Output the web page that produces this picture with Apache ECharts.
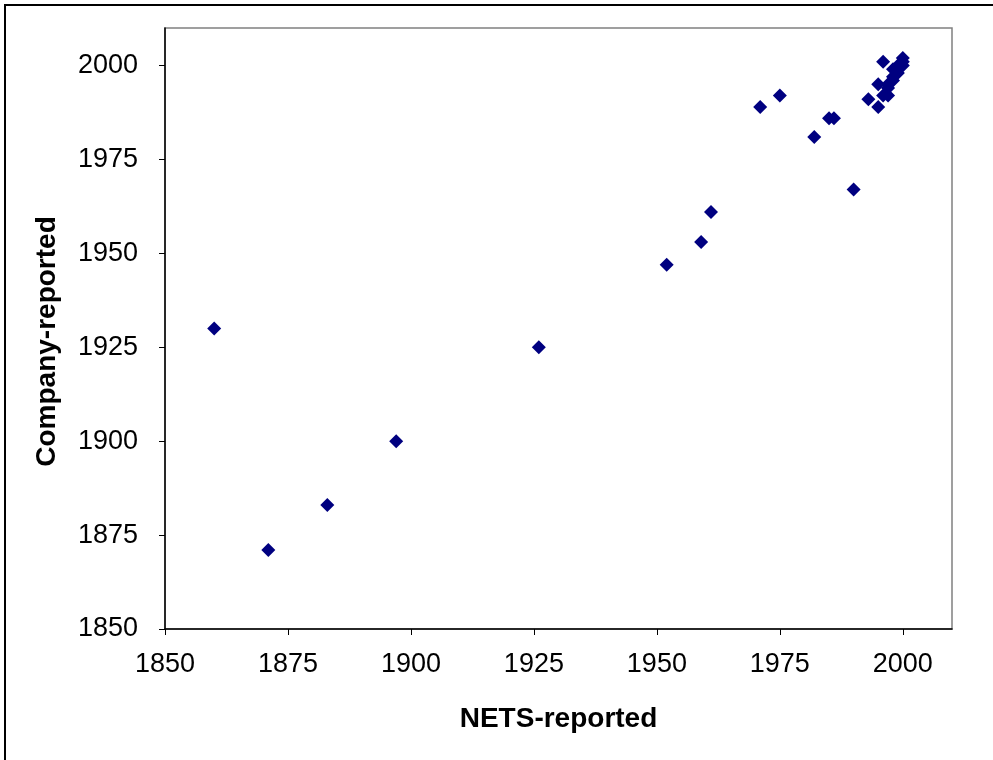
<!DOCTYPE html>
<html>
<head>
<meta charset="utf-8">
<style>
  html, body { margin: 0; padding: 0; background: #fff; }
  #chart { width: 993px; height: 760px; }
</style>
<script src="https://cdn.jsdelivr.net/npm/echarts@6/dist/echarts.min.js"></script>
</head>
<body>
<div id="chart"></div>
<script>
// year reported by NETS vs year reported by the company
var netsYears = [1860, 1871, 1883, 1897, 1926, 1952, 1959, 1961, 1971, 1975,
                 1982, 1985, 1986, 1990, 1993, 1995, 1995, 1996, 1996, 1997,
                 1997, 1997, 1998, 1998, 1998, 1999, 1999, 2000, 2000, 2000];
var companyYears = [1930, 1871, 1883, 1900, 1925, 1947, 1953, 1961, 1989, 1992,
                    1981, 1986, 1986, 1967, 1991, 1989, 1995, 2001, 1992, 1992,
                    1994, 1995, 1996, 1997, 1999, 1998, 2000, 2000, 2001, 2002];
var tickYears = [1850, 1875, 1900, 1925, 1950, 1975, 2000];

var points = [];
for (var i = 0; i < netsYears.length; i++) {
	points.push([netsYears[i], companyYears[i]]);
}

var dom = document.getElementById('chart');
var myChart = echarts.init(dom);

var fontName = 'Liberation Sans, Arial, sans-serif';

function yearLabel(v) {
	return String(v);
}

var option = {
	animation: false,
	backgroundColor: '#fff',
	grid: {
		left: 165,
		right: 41,
		top: 28,
		bottom: 131,
		show: true,
		borderColor: '#808080',
		borderWidth: 1.5,
		backgroundColor: '#fff'
	},
	graphic: [{
		type: 'rect',
		shape: { x: 5, y: 5, width: 1000, height: 800 },
		style: { fill: 'none', stroke: '#000', lineWidth: 2 },
		silent: true
	}],
	xAxis: {
		type: 'value',
		min: 1850,
		max: 2010,
		interval: 25,
		name: 'NETS-reported',
		nameLocation: 'middle',
		nameGap: 76,
		nameTextStyle: {
			color: '#000',
			fontFamily: fontName,
			fontSize: 28,
			fontWeight: 'bold'
		},
		axisLine: { lineStyle: { color: '#000', width: 1.5 } },
		axisTick: { inside: false, length: 6, customValues: tickYears, lineStyle: { color: '#000' } },
		axisLabel: {
			margin: 22,
			customValues: tickYears,
			formatter: yearLabel,
			color: '#000',
			fontFamily: fontName,
			fontSize: 27
		},
		splitLine: { show: false }
	},
	yAxis: {
		type: 'value',
		min: 1850,
		max: 2010,
		interval: 25,
		name: 'Company-reported',
		nameLocation: 'middle',
		nameGap: 104,
		nameTextStyle: {
			color: '#000',
			fontFamily: fontName,
			fontSize: 28,
			fontWeight: 'bold',
			padding: [0, 26, 0, 0]
		},
		axisLine: { lineStyle: { color: '#000', width: 1.5 } },
		axisTick: { inside: false, length: 6, customValues: tickYears, lineStyle: { color: '#000' } },
		axisLabel: {
			margin: 27,
			customValues: tickYears,
			formatter: yearLabel,
			color: '#000',
			fontFamily: fontName,
			fontSize: 27
		},
		splitLine: { show: false }
	},
	series: [{
		type: 'scatter',
		symbol: 'diamond',
		symbolSize: 14,
		itemStyle: { color: '#000080', opacity: 1 },
		data: points
	}]
};

myChart.setOption(option, true);
</script>
</body>
</html>
